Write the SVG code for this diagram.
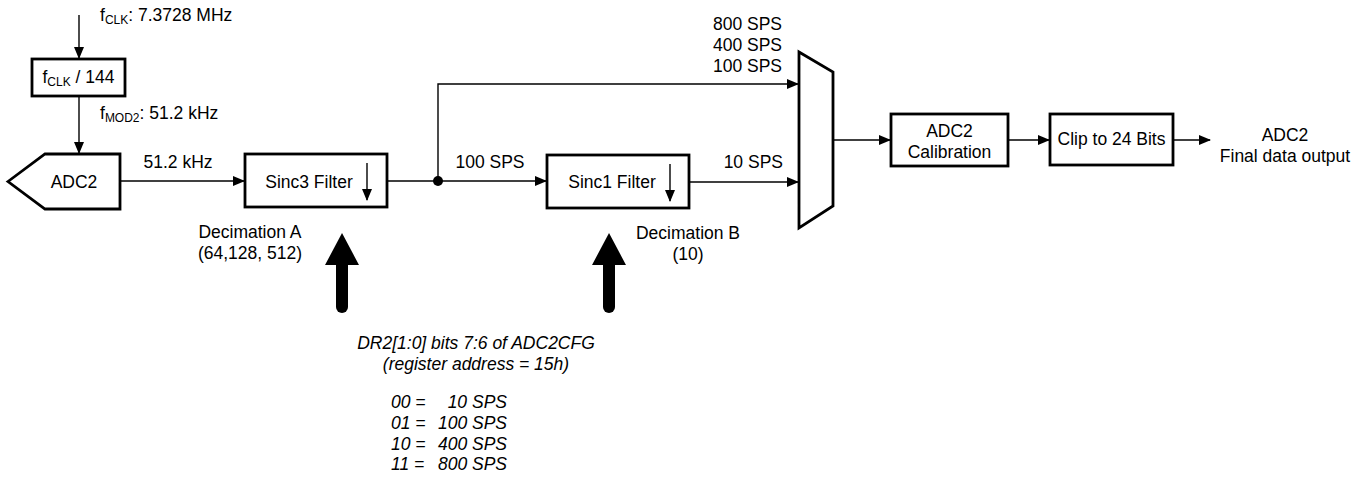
<svg xmlns="http://www.w3.org/2000/svg" width="1366" height="477" viewBox="0 0 1366 477">
<defs>
<marker id="ah" markerWidth="12" markerHeight="10" refX="11" refY="5" orient="auto" markerUnits="userSpaceOnUse">
<path d="M0,0 L12,5 L0,10 Z" fill="#000"/>
</marker>
<style>
text{font-family:"Liberation Sans",Arial,sans-serif;font-size:17.5px;fill:#000}
.sub{font-size:12px}
.it{font-style:italic}
.box{fill:#fff;stroke:#000;stroke-width:2.8}
.wire{fill:none;stroke:#000;stroke-width:1.4}
.mid{text-anchor:middle}
.end{text-anchor:end}
</style>
</defs>
<rect width="1366" height="477" fill="#fff"/>
<g id="connectors">
<line class="wire" x1="79" y1="15" x2="79" y2="58" marker-end="url(#ah)"/>
<line class="wire" x1="79" y1="97" x2="79" y2="153" marker-end="url(#ah)"/>
<line class="wire" x1="120" y1="181" x2="244" y2="181" marker-end="url(#ah)"/>
<line class="wire" x1="387" y1="181" x2="546" y2="181" marker-end="url(#ah)"/>
<polyline class="wire" points="438,181 438,84 798,84" marker-end="url(#ah)"/>
<line class="wire" x1="689" y1="182" x2="798" y2="182" marker-end="url(#ah)"/>
<line class="wire" x1="833" y1="140" x2="890" y2="140" marker-end="url(#ah)"/>
<line class="wire" x1="1008" y1="140" x2="1049" y2="140" marker-end="url(#ah)"/>
<line class="wire" x1="1173" y1="140" x2="1210" y2="140" marker-end="url(#ah)"/>
<circle cx="438" cy="181" r="5" fill="#000"/>
</g>
<g id="clk-label">
<text x="100" y="21">f<tspan class="sub" dy="3">CLK</tspan><tspan dy="-3">: 7.3728 MHz</tspan></text>
</g>
<g id="clkdiv">
<rect class="box" x="32" y="59" width="93" height="37"/>
<text x="78.5" y="83" class="mid">f<tspan class="sub" dy="3">CLK</tspan><tspan dy="-3"> / 144</tspan></text>
</g>
<g id="fmod-label">
<text x="100" y="119">f<tspan class="sub" dy="3">MOD2</tspan><tspan dy="-3">: 51.2 kHz</tspan></text>
</g>
<g id="adc2">
<polygon class="box" points="8,181.5 45,154 120,154 120,209 45,209"/>
<text x="74" y="188" class="mid">ADC2</text>
</g>
<text x="178" y="168" class="mid">51.2 kHz</text>
<g id="sinc3">
<rect class="box" x="245" y="154" width="142" height="53"/>
<text x="309" y="188" class="mid">Sinc3 Filter</text>
<line class="wire" x1="367" y1="163" x2="367" y2="200" marker-end="url(#ah)"/>
</g>
<text x="250" y="238" class="mid">Decimation A</text>
<text x="250" y="259" class="mid">(64,128, 512)</text>
<text x="490" y="168" class="mid">100 SPS</text>
<g id="sinc1">
<rect class="box" x="547" y="155" width="142" height="53"/>
<text x="612" y="188" class="mid">Sinc1 Filter</text>
<line class="wire" x1="670" y1="164" x2="670" y2="201" marker-end="url(#ah)"/>
</g>
<text x="688" y="239" class="mid">Decimation B</text>
<text x="688" y="260" class="mid">(10)</text>
<text x="783" y="168" class="end">10 SPS</text>
<text x="782" y="30" class="end">800 SPS</text>
<text x="782" y="51" class="end">400 SPS</text>
<text x="782" y="72" class="end">100 SPS</text>
<g id="mux">
<polygon class="box" points="799,52 833,72 833,206 799,228"/>
</g>
<g id="calibration">
<rect class="box" x="891" y="114" width="117" height="52"/>
<text x="949.5" y="137" class="mid">ADC2</text>
<text x="949.5" y="158" class="mid">Calibration</text>
</g>
<g id="clip">
<rect class="box" x="1050" y="114" width="123" height="51"/>
<text x="1111.5" y="145" class="mid">Clip to 24 Bits</text>
</g>
<g id="output">
<text x="1285" y="141" class="mid">ADC2</text>
<text x="1285" y="162" class="mid">Final data output</text>
</g>
<g id="control-arrows">
<line x1="342" y1="262" x2="342" y2="307" stroke="#000" stroke-width="12" stroke-linecap="round"/>
<polygon points="325,265 342,233 359,265" fill="#000"/>
<line x1="609" y1="262" x2="609" y2="307" stroke="#000" stroke-width="12" stroke-linecap="round"/>
<polygon points="592,265 609,233 626,265" fill="#000"/>
</g>
<g id="register-note">
<text x="476" y="349" class="mid it">DR2[1:0] bits 7:6 of ADC2CFG</text>
<text x="476" y="370" class="mid it">(register address = 15h)</text>
<text x="391" y="408" class="it">00 =</text><text x="507" y="408" class="end it">10 SPS</text>
<text x="391" y="429" class="it">01 =</text><text x="507" y="429" class="end it">100 SPS</text>
<text x="391" y="450" class="it">10 =</text><text x="507" y="450" class="end it">400 SPS</text>
<text x="391" y="470" class="it">11 =</text><text x="507" y="470" class="end it">800 SPS</text>
</g>
</svg>
